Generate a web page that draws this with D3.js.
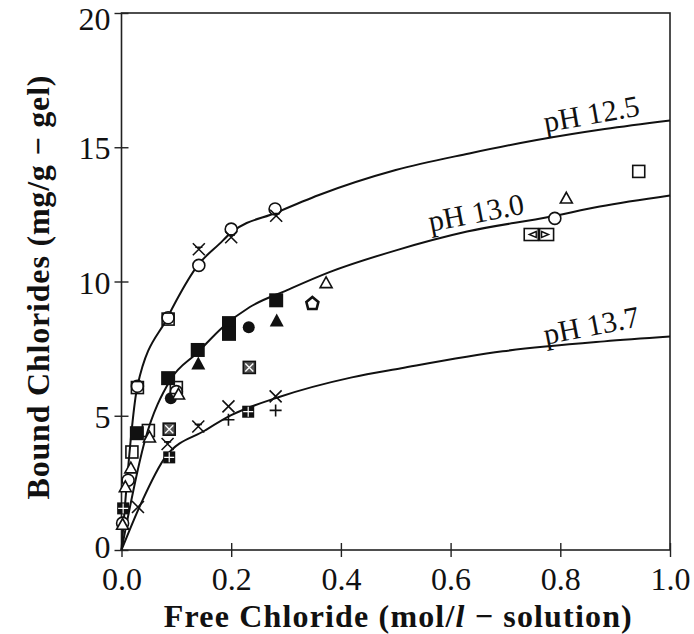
<!DOCTYPE html>
<html>
<head>
<meta charset="utf-8">
<script src="https://cdn.jsdelivr.net/npm/d3@7"></script>
<style>
  body { margin: 0; background: #fff; }
  svg { display: block; }
</style>
</head>
<body>
<svg id="chart"></svg>
<script>
// axis ticks
const xTicks = [0, 0.2, 0.4, 0.6, 0.8, 1.0];
const yTicks = [0, 5, 10, 15, 20];

// fitted isotherm curves
const curvePH125 = [[0,0],[0.029,6.1],[0.084,8.66],[0.1,9.29],[0.139,10.6],[0.179,11.41],[0.2,11.82],[0.283,12.57],[0.36,13.22],[0.5,14.15],[0.634,14.77],[0.757,15.27],[0.881,15.68],[1.0,16.0]];
const curvePH130 = [[0,0],[0.043,4.1],[0.089,6.33],[0.138,7.34],[0.185,8.31],[0.234,9.05],[0.302,9.68],[0.378,10.34],[0.502,11.17],[0.63,11.86],[0.781,12.41],[0.872,12.79],[1.0,13.2]];
const curvePH137 = [[0,0],[0.036,1.75],[0.08,3.46],[0.153,4.46],[0.2,5.02],[0.286,5.69],[0.42,6.43],[0.51,6.77],[0.695,7.4],[0.88,7.77],[1.0,7.95]];

// measured points, grouped by marker
const openCircle = [[0.029,6.1],[0.085,8.65],[0.141,10.6],[0.2,11.95],[0.28,12.7],[0.1,5.9],[0.012,2.6],[0.002,1.0],[0.79,12.35]];
const openSquare = [[0.029,6.05],[0.085,8.6],[0.049,4.45],[0.019,3.65],[0.1,6.05],[0.943,14.1]];
const openTriangle = [[0.002,0.95],[0.007,2.35],[0.017,3.05],[0.051,4.2],[0.104,5.8],[0.373,9.95],[0.811,13.1]];
const filledSquare = [[0.028,4.35],[0.085,6.4],[0.139,7.45],[0.196,8.45],[0.196,8.05],[0.282,9.3]];
const filledTriangle = [[0.14,6.95],[0.283,8.55]];
const filledCircle = [[0.09,5.65],[0.232,8.3]];
const pentagon = [[0.348,9.2]];
const boxTriL = [[0.747,11.75]];
const boxTriR = [[0.775,11.75]];
const xBar = [[0.141,11.2],[0.2,11.65],[0.282,12.45],[0.084,3.95],[0.14,4.6]];
const cross = [[0.03,1.6],[0.195,5.35],[0.281,5.72]];
const plus = [[0.195,4.85],[0.281,5.2]];
const boxX = [[0.087,4.5],[0.233,6.8]];
const boxGrid = [[0.003,1.55],[0.087,3.45],[0.231,5.15]];

const curveLabels = [
  {text: "pH 12.5", at: 0.86, dy: -7, angle: -10},
  {text: "pH 13.0", at: 0.65, dy: -7, angle: -11},
  {text: "pH 13.7", at: 0.86, dy: -7, angle: -11}
];

const width = 694, height = 634;
const marginTop = 13, marginRight = 24, marginBottom = 84, marginLeft = 121.5;

const svg = d3.select("#chart")
  .attr("width", width)
  .attr("height", height)
  .attr("viewBox", [0, 0, width, height])
  .style("font-family", "'Liberation Serif', 'DejaVu Serif', serif");

const x = d3.scaleLinear().domain([0, 1]).range([marginLeft, width - marginRight]);
const y = d3.scaleLinear().domain([0, 20]).range([height - marginBottom, marginTop]);

// frame
svg.append("rect")
  .attr("x", x(0)).attr("y", y(20))
  .attr("width", x(1) - x(0)).attr("height", y(0) - y(20))
  .attr("fill", "none").attr("stroke", "#222").attr("stroke-width", 1.6);

// axes: ticks cross the line
svg.append("g")
  .attr("transform", `translate(0,${y(0)})`)
  .call(d3.axisBottom(x).tickValues(xTicks).tickFormat(d3.format(".1f")).tickSize(7).tickSizeOuter(0))
  .call(g => g.select(".domain").remove())
  .call(g => g.selectAll(".tick line").attr("y1", -7).attr("stroke", "#222").attr("stroke-width", 1.4))
  .call(g => g.selectAll(".tick text").attr("font-size", 32).attr("font-family", "'Liberation Serif', serif").attr("fill", "#111").attr("dy", "0.95em").attr("y", 10));

svg.append("g")
  .attr("transform", `translate(${x(0)},0)`)
  .call(d3.axisLeft(y).tickValues(yTicks).tickSize(7).tickSizeOuter(0))
  .call(g => g.select(".domain").remove())
  .call(g => g.selectAll(".tick line").attr("x1", 7).attr("stroke", "#222").attr("stroke-width", 1.4))
  .call(g => g.selectAll(".tick text").attr("font-size", 32).attr("font-family", "'Liberation Serif', serif").attr("fill", "#111").attr("x", -11).attr("dy", "0.36em"))
  .call(g => g.selectAll(".tick").filter(d => d === 20).select("text").attr("dy", "0.5em"))
  .call(g => g.selectAll(".tick").filter(d => d === 0).select("text").attr("dy", "0.24em"));

// curves
const line = d3.line().x(d => x(d[0])).y(d => y(d[1])).curve(d3.curveMonotoneX);
const curves = [curvePH125, curvePH130, curvePH137];
svg.append("g")
  .selectAll("path")
  .data(curves)
  .join("path")
  .attr("d", line)
  .attr("fill", "none")
  .attr("stroke", "#111")
  .attr("stroke-width", 2);

// curve labels, sitting just above each curve
curveLabels.forEach((l, i) => {
  const c = curves[i];
  const k = d3.bisector(d => d[0]).left(c, l.at);
  const a = c[k - 1], b = c[k];
  const t = (l.at - a[0]) / (b[0] - a[0]);
  const v = a[1] + t * (b[1] - a[1]);
  svg.append("text")
    .attr("transform", `translate(${x(l.at)},${y(v) + l.dy}) rotate(${l.angle})`)
    .attr("text-anchor", "middle")
    .attr("font-size", 30)
    .attr("fill", "#111")
    .text(l.text);
});

// marker glyphs
const S = 6;
const glyphs = {
  openCircle: g => g.append("circle").attr("r", S).attr("fill", "#fff").attr("stroke", "#111").attr("stroke-width", 1.6),
  openSquare: g => g.append("rect").attr("x", -S).attr("y", -S).attr("width", 2 * S).attr("height", 2 * S).attr("fill", "none").attr("stroke", "#111").attr("stroke-width", 1.6),
  openTriangle: g => g.append("path").attr("d", `M0,${-S}L${S},${S * 0.8}L${-S},${S * 0.8}Z`).attr("fill", "#fff").attr("stroke", "#111").attr("stroke-width", 1.6),
  filledSquare: g => g.append("rect").attr("x", -S - 1).attr("y", -S - 1).attr("width", 2 * S + 2).attr("height", 2 * S + 2).attr("fill", "#111"),
  filledTriangle: g => g.append("path").attr("d", `M0,${-S - 1}L${S + 1},${S}L${-S - 1},${S}Z`).attr("fill", "#111"),
  filledCircle: g => g.append("circle").attr("r", S).attr("fill", "#111"),
  pentagon: g => g.append("path").attr("d", `M0,${-S}L${S},${-1}L${S * 0.7},${S}L${-S * 0.7},${S}L${-S},${-1}Z`).attr("fill", "#fff").attr("stroke", "#111").attr("stroke-width", 2.6),
  boxTriL: g => {
    g.append("rect").attr("x", -S - 1).attr("y", -S).attr("width", 2 * S + 2).attr("height", 2 * S).attr("fill", "#fff").attr("stroke", "#111").attr("stroke-width", 1.6);
    g.append("path").attr("d", `M${S - 1},${-S + 3}L${-2},0L${S - 1},${S - 3}Z`).attr("fill", "none").attr("stroke", "#111").attr("stroke-width", 1.4);
  },
  boxTriR: g => {
    g.append("rect").attr("x", -S - 1).attr("y", -S).attr("width", 2 * S + 2).attr("height", 2 * S).attr("fill", "none").attr("stroke", "#111").attr("stroke-width", 1.6);
    g.append("path").attr("d", `M${-S + 1},${-S + 3}L${2},0L${-S + 1},${S - 3}Z`).attr("fill", "none").attr("stroke", "#111").attr("stroke-width", 1.4);
  },
  xBar: g => g.append("path").attr("d", `M${-S},${-S}L${S},${S}M${S},${-S}L${-S},${S}M${-S * 0.6},${-S * 0.35}L${S * 0.6},${-S * 0.35}`).attr("fill", "none").attr("stroke", "#111").attr("stroke-width", 1.6),
  cross: g => g.append("path").attr("d", `M${-S},${-S}L${S},${S}M${S},${-S}L${-S},${S}`).attr("fill", "none").attr("stroke", "#111").attr("stroke-width", 1.6),
  plus: g => g.append("path").attr("d", `M${-S},0L${S},0M0,${-S}L0,${S}`).attr("fill", "none").attr("stroke", "#111").attr("stroke-width", 1.6),
  boxX: g => {
    g.append("rect").attr("x", -S).attr("y", -S).attr("width", 2 * S).attr("height", 2 * S).attr("fill", "#555").attr("stroke", "#111").attr("stroke-width", 1.6);
    g.append("path").attr("d", `M${-S + 2},${-S + 2}L${S - 2},${S - 2}M${S - 2},${-S + 2}L${-S + 2},${S - 2}`).attr("stroke", "#fff").attr("stroke-width", 1.3);
  },
  boxGrid: g => {
    g.append("rect").attr("x", -S).attr("y", -S).attr("width", 2 * S).attr("height", 2 * S).attr("fill", "#111");
    g.append("path").attr("d", `M${-S + 1},0L${S - 1},0M0,${-S + 1}L0,${S - 1}`).attr("stroke", "#fff").attr("stroke-width", 1.2);
  }
};

const series = [
  ["filledSquare", filledSquare], ["filledTriangle", filledTriangle], ["filledCircle", filledCircle],
  ["boxX", boxX], ["boxGrid", boxGrid],
  ["openCircle", openCircle], ["openSquare", openSquare], ["openTriangle", openTriangle],
  ["pentagon", pentagon], ["boxTriL", boxTriL], ["boxTriR", boxTriR],
  ["xBar", xBar], ["cross", cross], ["plus", plus]
];

series.forEach(([kind, data]) => {
  svg.append("g")
    .selectAll("g")
    .data(data)
    .join("g")
    .attr("transform", d => `translate(${x(d[0])},${y(d[1])})`)
    .each(function () { glyphs[kind](d3.select(this)); });
});

// axis titles
svg.append("text")
  .attr("x", (x(0) + x(1)) / 2 + 2)
  .attr("y", 627)
  .attr("text-anchor", "middle")
  .attr("font-size", 32)
  .attr("font-weight", "bold")
  .attr("fill", "#111")
  .attr("textLength", 468)
  .attr("lengthAdjust", "spacing")
  .call(t => {
    t.append("tspan").text("Free Chloride (mol/");
    t.append("tspan").attr("font-style", "italic").text("l");
    t.append("tspan").text(" \u2212 solution)");
  });

svg.append("text")
  .attr("transform", `translate(49,${(y(0) + y(20)) / 2 + 6}) rotate(-90)`)
  .attr("text-anchor", "middle")
  .attr("font-size", 32)
  .attr("font-weight", "bold")
  .attr("fill", "#111")
  .attr("textLength", 424)
  .attr("lengthAdjust", "spacing")
  .text("Bound Chlorides (mg/g \u2212 gel)");
</script>
</body>
</html>
